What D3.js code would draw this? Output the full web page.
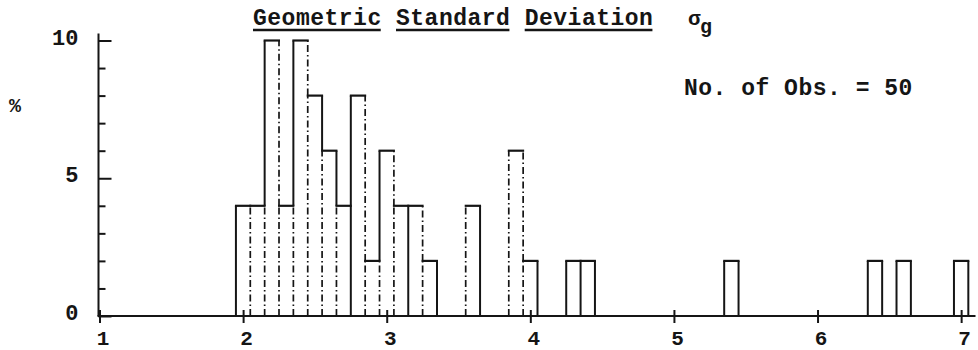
<!DOCTYPE html>
<html>
<head>
<meta charset="utf-8">
<script src="https://cdn.jsdelivr.net/npm/d3@7"></script>
<style>
  body { margin: 0; background: #fff; }
  svg text { font-family: "Liberation Mono", "DejaVu Sans Mono", monospace; font-weight: bold; fill: #151515; }
</style>
</head>
<body>
<svg id="chart" width="978" height="350"></svg>
<script>
// Histogram of the geometric standard deviation (50 observations, bins 0.1 wide)
const binCenters = [2.0, 2.1, 2.2, 2.3, 2.4, 2.5, 2.6, 2.7, 2.8, 2.9, 3.0, 3.1, 3.2, 3.3, 3.6, 3.9, 4.0, 4.3, 4.4, 5.4, 6.4, 6.6, 7.0];
const percents   = [4,   4,   10,  4,   10,  8,   6,   4,   8,   2,   6,   4,   4,   2,   4,   6,   2,   2,   2,   2,   2,   2,   2];
const binWidth = 0.1;

const xTickValues = [1, 2, 3, 4, 5, 6, 7];
const yMajorTicks = [0, 5, 10];
const yMinorTicks = [1, 2, 3, 4, 6, 7, 8, 9];

const titleWords = ["Geometric", "Standard", "Deviation"];
const noteText = "No. of Obs. = 50";
const yAxisLabel = "%";

// plotter pen: which bar edges were traced with the broken pen
const brokenFalls = [2.2, 2.4, 2.8, 3.0, 3.2, 3.9];  // right edge, where the bar steps down
const brokenRises = [3.3, 3.6, 3.9];                  // left edge, where the bar steps up
const solidShared = [2.8, 3.2, 4.4];                  // shared left edge traced solid to the base

const svg = d3.select("#chart");
const INK = "#151515";
const BROKEN = "7,3,1.5,3";

const x = d3.scaleLinear().domain([1, 7.1]).range([99.5, 975.5]);
const y = d3.scaleLinear().domain([0, 10]).range([316, 40.5]);

// ---- bars: tops, then vertical edges split into envelope and shared parts
const key = v => Math.round(v * 10);
const bins = binCenters.map((c, i) => ({ c, k: key(c), h: percents[i] }));
const byKey = new Map(bins.map(b => [b.k, b]));
const inSet = (arr, k) => arr.some(v => key(v) === k);

const segments = [];
// boundary between bin k-1 and bin k sits at (k - 0.5) / 10
const boundaryKeys = new Set();
bins.forEach(b => { boundaryKeys.add(b.k); boundaryKeys.add(b.k + 1); });
boundaryKeys.forEach(bk => {
  const leftBin = byKey.get(bk - 1), rightBin = byKey.get(bk);
  const hl = leftBin ? leftBin.h : 0, hr = rightBin ? rightBin.h : 0;
  const bx = (bk - 0.5) / 10;
  const lo = Math.min(hl, hr), hi = Math.max(hl, hr);
  if (hi > lo) {
    let broken = false;
    if (hl > hr && leftBin && inSet(brokenFalls, leftBin.k)) broken = true;
    if (hr > hl && rightBin && inSet(brokenRises, rightBin.k)) broken = true;
    segments.push({ x: bx, y0: lo, y1: hi, broken });
  }
  if (lo > 0) {
    const solid = rightBin && inSet(solidShared, rightBin.k);
    segments.push({ x: bx, y0: 0, y1: lo, broken: !solid });
  }
});

const gBars = svg.append("g");
gBars.selectAll("line.edge")
  .data(segments.sort((a, b) => (b.broken ? 1 : 0) - (a.broken ? 1 : 0)))
  .join("line")
  .attr("class", "edge")
  .attr("x1", d => x(d.x)).attr("x2", d => x(d.x))
  .attr("y1", d => y(d.y0)).attr("y2", d => y(d.y1))
  .attr("stroke", INK)
  .attr("stroke-width", d => d.broken ? 1.7 : 2)
  .attr("stroke-dasharray", d => d.broken ? BROKEN : null);

gBars.selectAll("line.top")
  .data(bins)
  .join("line")
  .attr("class", "top")
  .attr("x1", d => x(d.c - binWidth / 2) - 1)
  .attr("x2", d => x(d.c + binWidth / 2) + 1)
  .attr("y1", d => y(d.h)).attr("y2", d => y(d.h))
  .attr("stroke", INK).attr("stroke-width", 2.2);

// ---- y axis: minor and major ticks pointing into the plot
const yMinor = d3.axisLeft(y).tickValues(yMinorTicks).tickSize(-7).tickFormat("");
const yMajor = d3.axisLeft(y).tickValues(yMajorTicks).tickSize(-13).tickPadding(20).tickFormat(d3.format("d"));
[yMinor, yMajor].forEach(ax => {
  const g = svg.append("g").attr("transform", `translate(${x(1) - 1},0)`).call(ax);
  g.select(".domain").remove();
  g.selectAll(".tick line").attr("stroke", INK).attr("stroke-width", 2);
  g.selectAll(".tick text")
    .attr("fill", INK)
    .style("font-size", "22px")
    .attr("dy", "0.3em")
    .attr("y", -3);
});
svg.append("line")
  .attr("x1", x(1) - 1).attr("x2", x(1) - 1)
  .attr("y1", y(0)).attr("y2", y(10) - 7)
  .attr("stroke", INK).attr("stroke-width", 2);

// ---- x axis: ticks crossing the base line
const xAxis = d3.axisBottom(x).tickValues(xTickValues).tickSize(7).tickPadding(7).tickFormat(d3.format("d"));
const gx = svg.append("g").attr("transform", `translate(0,${y(0)})`).call(xAxis);
gx.select(".domain").remove();
gx.selectAll(".tick line").attr("y1", -6).attr("stroke", INK).attr("stroke-width", 2);
gx.selectAll(".tick text").attr("fill", INK).style("font-size", "21px").attr("dx", 3);
svg.append("line")
  .attr("x1", x(1) - 2).attr("x2", x(7.1))
  .attr("y1", y(0)).attr("y2", y(0))
  .attr("stroke", INK).attr("stroke-width", 2.2);

// ---- title, underlined word by word
const charStep = 14.3;
let cursor = 253;
titleWords.forEach(w => {
  const t = svg.append("text")
    .attr("x", cursor).attr("y", 25)
    .style("font-size", "23px").style("letter-spacing", "0.5px")
    .text(w);
  const bb = t.node().getBBox();
  svg.append("line")
    .attr("x1", bb.x).attr("x2", bb.x + bb.width - 1)
    .attr("y1", 30).attr("y2", 30)
    .attr("stroke", INK).attr("stroke-width", 2.4);
  cursor += (w.length + 1) * charStep;
});
svg.append("text").attr("x", 688).attr("y", 25).style("font-size", "21px").text("σ");
svg.append("text").attr("x", 700).attr("y", 33).style("font-size", "20px").text("g");

svg.append("text")
  .attr("x", 684).attr("y", 95)
  .style("font-size", "23px").style("letter-spacing", "0.5px")
  .text(noteText);

svg.append("text")
  .attr("x", 15).attr("y", 112)
  .attr("text-anchor", "middle")
  .style("font-size", "20px")
  .text(yAxisLabel);
</script>
</body>
</html>
